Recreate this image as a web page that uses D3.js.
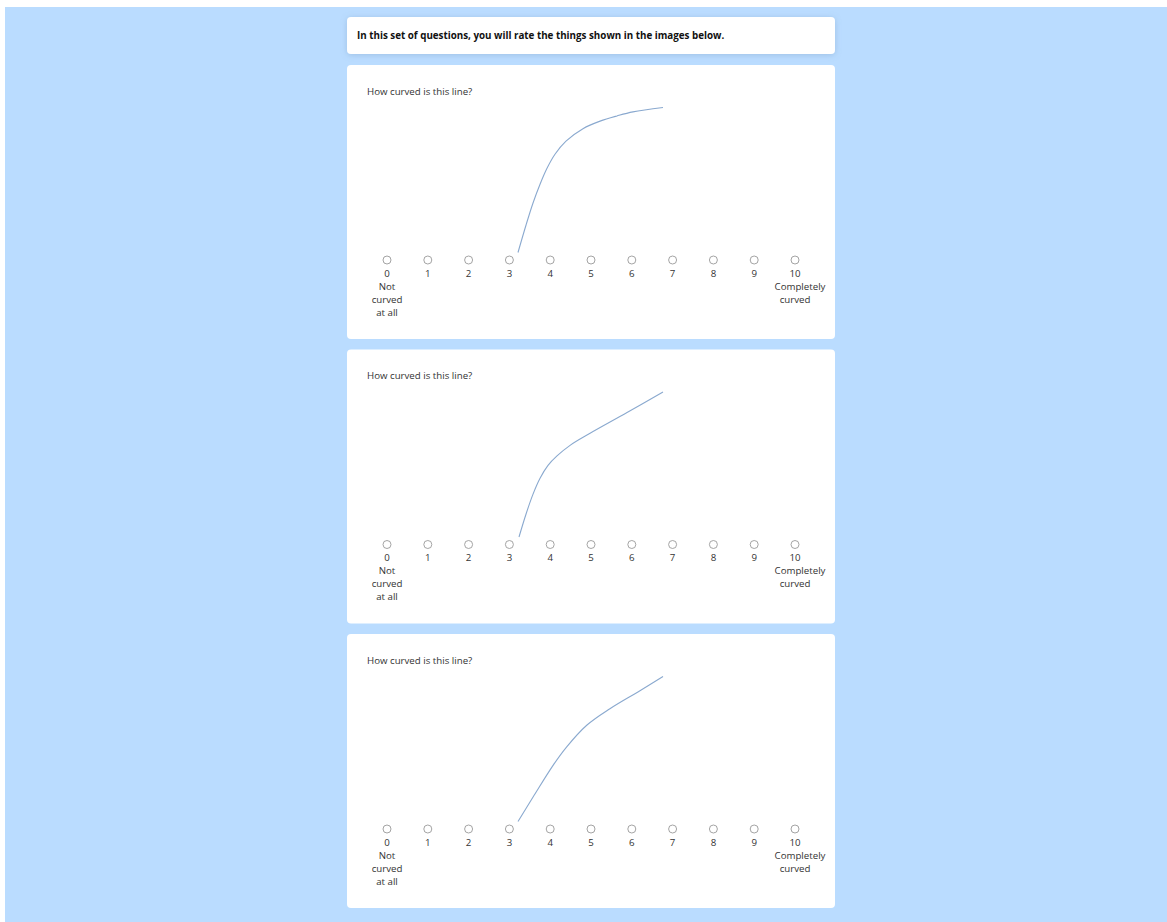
<!DOCTYPE html>
<html>
<head>
<meta charset="utf-8">
<script src="https://cdn.jsdelivr.net/npm/d3@7"></script>
<style>
  html, body { margin: 0; padding: 0; background: #ffffff; }
  svg { display: block; }
  text { font-family: "Open Sans", "Noto Sans", sans-serif; }
</style>
</head>
<body>
<script>
// ---- data ----
const intro = "In this set of questions, you will rate the things shown in the images below.";
const questions = ["How curved is this line?", "How curved is this line?", "How curved is this line?"];
const categories = [0, 1, 2, 3, 4, 5, 6, 7, 8, 9, 10];
const lowLabel = ["Not", "curved", "at all"];
const highLabel = ["Completely", "curved"];

const curve1X = [0, 0.55, 1.03, 1.52, 2.00, 2.55, 3.31, 4.48, 5.66, 6.83, 7.93, 10];
const curve1Y = [0, 1.88, 3.40, 4.71, 5.81, 6.78, 7.68, 8.54, 9.06, 9.42, 9.70, 10];
const curve2X = [0.07, 0.55, 1.03, 1.52, 2.07, 2.69, 3.59, 4.97, 7.52, 10];
const curve2Y = [0, 1.57, 2.94, 4.05, 4.94, 5.59, 6.32, 7.15, 8.58, 10];
const curve3X = [0, 1.06, 2.43, 3.36, 4.74, 6.34, 8.41, 10];
const curve3Y = [0, 1.72, 3.89, 5.15, 6.64, 7.78, 9.02, 10];
const curvesX = [curve1X, curve2X, curve3X];
const curvesY = [curve1Y, curve2Y, curve3Y];

// ---- layout ----
const W = 1167, H = 922;
const svg = d3.select("body").append("svg").attr("width", W).attr("height", H);

const defs = svg.append("defs");
const f = defs.append("filter").attr("id", "shadow").attr("x", "-10%").attr("y", "-50%").attr("width", "120%").attr("height", "200%");
f.append("feDropShadow").attr("dx", 0).attr("dy", 1).attr("stdDeviation", 3)
  .attr("flood-color", "#6a8fb5").attr("flood-opacity", 0.35);

svg.append("rect").attr("x", 5).attr("y", 7).attr("width", W - 5).attr("height", H - 7)
  .attr("fill", "#badcff");

const cardX = 347, cardW = 488;
const fs = 9.7;

// intro card
svg.append("rect").attr("x", cardX).attr("y", 17).attr("width", cardW).attr("height", 37)
  .attr("rx", 4).attr("fill", "#fff").attr("filter", "url(#shadow)");
svg.append("text").attr("x", 357).attr("y", 39).attr("font-size", 9.8).attr("font-weight", 700)
  .attr("fill", "#111").text(intro);

const cardTops = [65, 349.5, 634];
const cardH = 274;

const xRadio = d3.scalePoint().domain(categories).range([387, 795]);
const xPlot = d3.scaleLinear().domain([0, 10]).range([518, 663]);

questions.forEach((q, i) => {
  const top = cardTops[i];
  const g = svg.append("g").attr("transform", `translate(0,${top})`);
  g.append("rect").attr("x", cardX).attr("y", 0).attr("width", cardW).attr("height", cardH)
    .attr("rx", 4).attr("fill", "#fff");
  g.append("text").attr("x", 367).attr("y", 29.5).attr("font-size", fs).attr("fill", "#333").text(q);

  const yPlot = d3.scaleLinear().domain([0, 10]).range([187.5, 42.5]);
  const pts = curvesX[i].map((x, k) => [x, curvesY[i][k]]);
  const line = d3.line().x(d => xPlot(d[0])).y(d => yPlot(d[1])).curve(d3.curveCatmullRom.alpha(0.5));
  g.append("path").attr("d", line(pts)).attr("fill", "none")
    .attr("stroke", "#8aa9cf").attr("stroke-width", 1.1);

  const r = g.selectAll(".opt").data(categories).enter().append("g")
    .attr("transform", d => `translate(${xRadio(d)},0)`);
  r.append("circle").attr("cx", 0).attr("cy", 195).attr("r", 4)
    .attr("fill", "#fff").attr("stroke", "#9a9a9a").attr("stroke-width", 0.9);
  r.append("text").attr("x", 0).attr("y", 211.5).attr("text-anchor", "middle")
    .attr("font-size", fs).attr("fill", "#333").text(d => d);

  const lo = g.append("text").attr("text-anchor", "middle").attr("font-size", fs).attr("fill", "#333");
  lowLabel.forEach((t, k) => lo.append("tspan").attr("x", xRadio(0)).attr("y", 224.5 + k * 13).text(t));
  const hi = g.append("text").attr("text-anchor", "middle").attr("font-size", fs).attr("fill", "#333");
  highLabel.forEach((t, k) => hi.append("tspan").attr("x", xRadio(10) + (k === 0 ? 5 : 0)).attr("y", 224.5 + k * 13).text(t));
});
</script>
</body>
</html>
